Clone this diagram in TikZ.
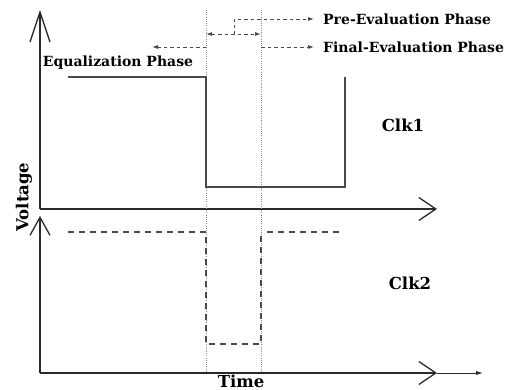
\documentclass[tikz,border=0pt]{standalone}
\usepackage{fontspec}
\setmainfont{DejaVu Serif}
\usepackage{xcolor}
\definecolor{cAxis}{HTML}{2A2A2A}
\definecolor{cWave}{HTML}{4A4A4A}
\definecolor{cGuide}{HTML}{8C8C8C}
\usepackage{tikz}
\usetikzlibrary{positioning,arrows.meta}
\tikzset{
  axis-line/.style={draw=cAxis,line width=1.3pt},
  wave-solid/.style={draw=cWave,line width=1.2pt},
  wave-dashed/.style={draw=cWave,line width=1.1pt,dash pattern=on 6pt off 5pt},
  guide-line/.style={draw=cGuide,line width=0.6pt,dash pattern=on 1pt off 1.2pt},
  arrow-phase/.style={draw=cWave,line width=0.9pt,dash pattern=on 3.5pt off 3pt,
    -{Latex[length=6pt,width=4pt]}},
  label-text/.style={font=\fontsize{14}{16}\selectfont\bfseries,inner sep=0pt,text=black},
  label-big/.style={font=\fontsize{16.5}{18}\selectfont\bfseries,inner sep=0pt,text=black},
}

\begin{document}
\begin{tikzpicture}[x=1pt,y=-1pt]
  \useasboundingbox (0,0) rectangle (509,390);
  % axes
  \coordinate (o1) at (40,209);
  \coordinate (o2) at (40,373);
  \coordinate (y1) at (40,10);
  \coordinate (y2) at (40,216);
  \coordinate (x1) at (437,209);
  \coordinate (x2) at (437,373);
  \coordinate (x3) at (483,373);
  \draw[axis-line,-{Straight Barb[length=30pt,width=20pt,line width=1.3pt]}] (o1) -- (y1);
  \draw[axis-line,-{Straight Barb[length=18pt,width=20pt,line width=1.3pt]}] (o2) -- (y2);
  \draw[axis-line,-{Straight Barb[length=17pt,width=23pt,line width=1.3pt]}] (o1) -- (x1);
  \draw[axis-line,-{Straight Barb[length=17pt,width=23pt,line width=1.3pt]}] (o2) -- (x2);
  \draw[draw=cAxis,line width=0.8pt,-{Latex[length=7pt,width=4pt]}] (x2) -- (x3);
  % phase boundaries
  \coordinate (ga) at (206,10);
  \coordinate (gb) at (261,10);
  \draw[guide-line] (ga) -- (206,373);
  \draw[guide-line] (gb) -- (261,373);
  % Clk1
  \draw[wave-solid] (68,77) -- (206,77) -- (206,187) -- (345,187) -- (345,77);
  % Clk2
  \draw[wave-dashed] (68,232) -- (206,232) -- (206,344) -- (261,344) -- (261,232);
  \draw[wave-dashed] (267,232) -- (341,232);
  % labels
  \node[label-text,anchor=west] (pre) at (323,19) {Pre-Evaluation Phase};
  \node[label-text,anchor=west] (fin) at (323,47) {Final-Evaluation Phase};
  \node[label-text] (equ) at (118,63) {Equalization Phase};
  \node[label-big] (clk1) at (403,125) {Clk1};
  \node[label-big] (clk2) at (410,283) {Clk2};
  \node[label-big] (time) at (241,381) {Time};
  \node[label-big,rotate=90] (volt) at (24,197) {Voltage};
  % phase arrows
  \coordinate (pa) at (234,35);
  \coordinate (fa) at (261,47);
  \coordinate (ea) at (206,47);
  \coordinate (eb) at (152,47);
  \coordinate (da) at (206,34);
  \coordinate (db) at (261,34);
  \draw[arrow-phase] (pa) |- ([xshift=-9pt]pre.west);
  \draw[arrow-phase] (fa) -- ([xshift=-9pt]fin.west);
  \draw[arrow-phase] (ea) -- (eb);
  \draw[arrow-phase,{Latex[length=6pt,width=4pt]}-{Latex[length=6pt,width=4pt]}] (da) -- (db);
\end{tikzpicture}
\end{document}
